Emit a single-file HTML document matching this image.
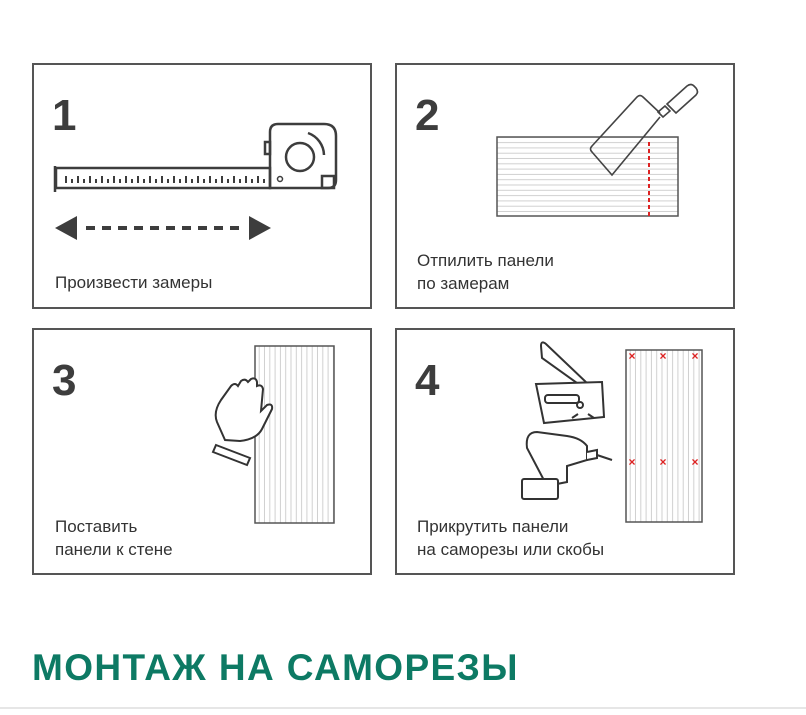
<!DOCTYPE html>
<html><head><meta charset="utf-8"><style>
body{margin:0;width:806px;height:710px;background:#fff;overflow:hidden;font-family:"Liberation Sans",sans-serif}
</style></head><body>
<svg width="806" height="710" viewBox="0 0 806 710" xmlns="http://www.w3.org/2000/svg" font-family="Liberation Sans, sans-serif">
<defs>
<pattern id="hl" width="10" height="5.3" patternUnits="userSpaceOnUse"><line x1="0" y1="4.8" x2="10" y2="4.8" stroke="#d0d0d0" stroke-width="1"/></pattern>
<pattern id="vl" width="5.3" height="10" patternUnits="userSpaceOnUse"><line x1="4.8" y1="0" x2="4.8" y2="10" stroke="#d0d0d0" stroke-width="1"/></pattern>
</defs>
<g fill="none" stroke="#555" stroke-width="2">
<rect x="33" y="64" width="338" height="244"/>
<rect x="396" y="64" width="338" height="244"/>
<rect x="33" y="329" width="338" height="245"/>
<rect x="396" y="329" width="338" height="245"/>
</g>
<g fill="#3d3d3d" font-weight="bold" font-size="44">
<text x="52" y="130">1</text><text x="415" y="130">2</text>
<text x="52" y="395">3</text><text x="415" y="395">4</text>
</g>
<g fill="#333" font-size="17">
<text x="55" y="288">Произвести замеры</text>
<text x="417" y="266">Отпилить панели</text><text x="417" y="289">по замерам</text>
<text x="55" y="532">Поставить</text><text x="55" y="555">панели к стене</text>
<text x="417" y="532">Прикрутить панели</text><text x="417" y="555">на саморезы или скобы</text>
</g>
<!-- tape measure -->
<g stroke="#3d3d3d" stroke-width="2.5" fill="none">
<line x1="55" y1="166" x2="55" y2="192"/>
<rect x="56" y="168" width="214" height="20"/>
<path d="M270 132 q0-8 8-8 h46 q12 0 12 12 v44 q0 8-8 8 h-58 z"/>
<circle cx="300" cy="157" r="14"/>
<path d="M308 133 a24 24 0 0 1 16 22"/>
<rect x="265" y="142" width="5" height="12"/>
<rect x="322" y="176" width="12" height="12"/>
<circle cx="280" cy="179" r="2.5" stroke-width="1.5"/>
</g>
<g stroke="#3d3d3d" stroke-width="2">
<path d="M66 183v-7M72 183v-4M78 183v-7M84 183v-4M90 183v-7M96 183v-4M102 183v-7M108 183v-4M114 183v-7M120 183v-4M126 183v-7M132 183v-4M138 183v-7M144 183v-4M150 183v-7M156 183v-4M162 183v-7M168 183v-4M174 183v-7M180 183v-4M186 183v-7M192 183v-4M198 183v-7M204 183v-4M210 183v-7M216 183v-4M222 183v-7M228 183v-4M234 183v-7M240 183v-4M246 183v-7M252 183v-4M258 183v-7M264 183v-4"/>
<line x1="86" y1="228" x2="244" y2="228" stroke-width="4" stroke-dasharray="9,7"/>
</g>
<path d="M55 228 l22-12 v24z M271 228 l-22-12 v24z" fill="#3d3d3d"/>
<!-- panel 2 -->
<rect x="497" y="137" width="181" height="79" fill="url(#hl)" stroke="#555" stroke-width="1.5"/>
<line x1="649" y1="142" x2="649" y2="216" stroke="#d22" stroke-width="2" stroke-dasharray="4,3"/>
<g stroke="#444" stroke-width="1.6" fill="none">
<path d="M660 113 L643 97 q-3-3 -6 0 L592 146 q-3 3 0 6 L612 175 L660 117"/>
<path d="M658 112 l7-6 l5 5 l-7 6 z"/>
<path d="M667 104 l20-18 q4-3 7 0 l2 2 q3 4 0 7 l-20 18 z"/>
</g>
<!-- panel 3 -->
<rect x="255" y="346" width="79" height="177" fill="url(#vl)" stroke="#555" stroke-width="1.5"/>
<g stroke="#333" stroke-width="2" fill="#fff">
<path d="M225 440 l-8-18 q-4-10 4-22 l10-14 q4-4 7 0 l3-5 q4-3 7 1 l3-3 q5-2 6 3 l0 4 q5-2 6 3 l-2 22 l6-6 q6-2 5 4 l-10 20 q-5 10-22 12 z"/>
<path d="M216 445 l34 13 -3 7 -34-13 z"/>
</g>
<!-- panel 4 -->
<rect x="626" y="350" width="76" height="172" fill="url(#vl)" stroke="#555" stroke-width="1.5"/>
<g fill="#d22" font-size="12" font-weight="bold" text-anchor="middle">
<text x="632" y="360">×</text><text x="663" y="360">×</text><text x="695" y="360">×</text>
<text x="632" y="466">×</text><text x="663" y="466">×</text><text x="695" y="466">×</text>
</g>
<g stroke="#333" stroke-width="2" fill="#fff">
<path d="M541 346 q0-6 5-2 l42 40 l-4 4 l-42-30 z"/>
<path d="M536 384 l66 -2 l2 35 l-60 6 z"/>
<rect x="545" y="395" width="34" height="8" rx="3"/>
<circle cx="580" cy="405" r="3"/>
<path d="M578 414 l-6 4 M588 414 l6 4" />
<path d="M527 448 q-2-16 10-16 l30 4 q14 2 20 10 v14 l-20 6 v16 l-20 4 z"/>
<path d="M587 452 l10 -2 l0 8 l-10 2" />
<line x1="597" y1="455" x2="612" y2="460"/>
<rect x="522" y="479" width="36" height="20" rx="2"/>
</g>
<text x="32" y="680" fill="#0d7a64" font-size="37" font-weight="bold" letter-spacing="1.4">МОНТАЖ НА САМОРЕЗЫ</text>
<line x1="0" y1="708" x2="806" y2="708" stroke="#ccc" stroke-width="1"/>
</svg>
</body></html>
